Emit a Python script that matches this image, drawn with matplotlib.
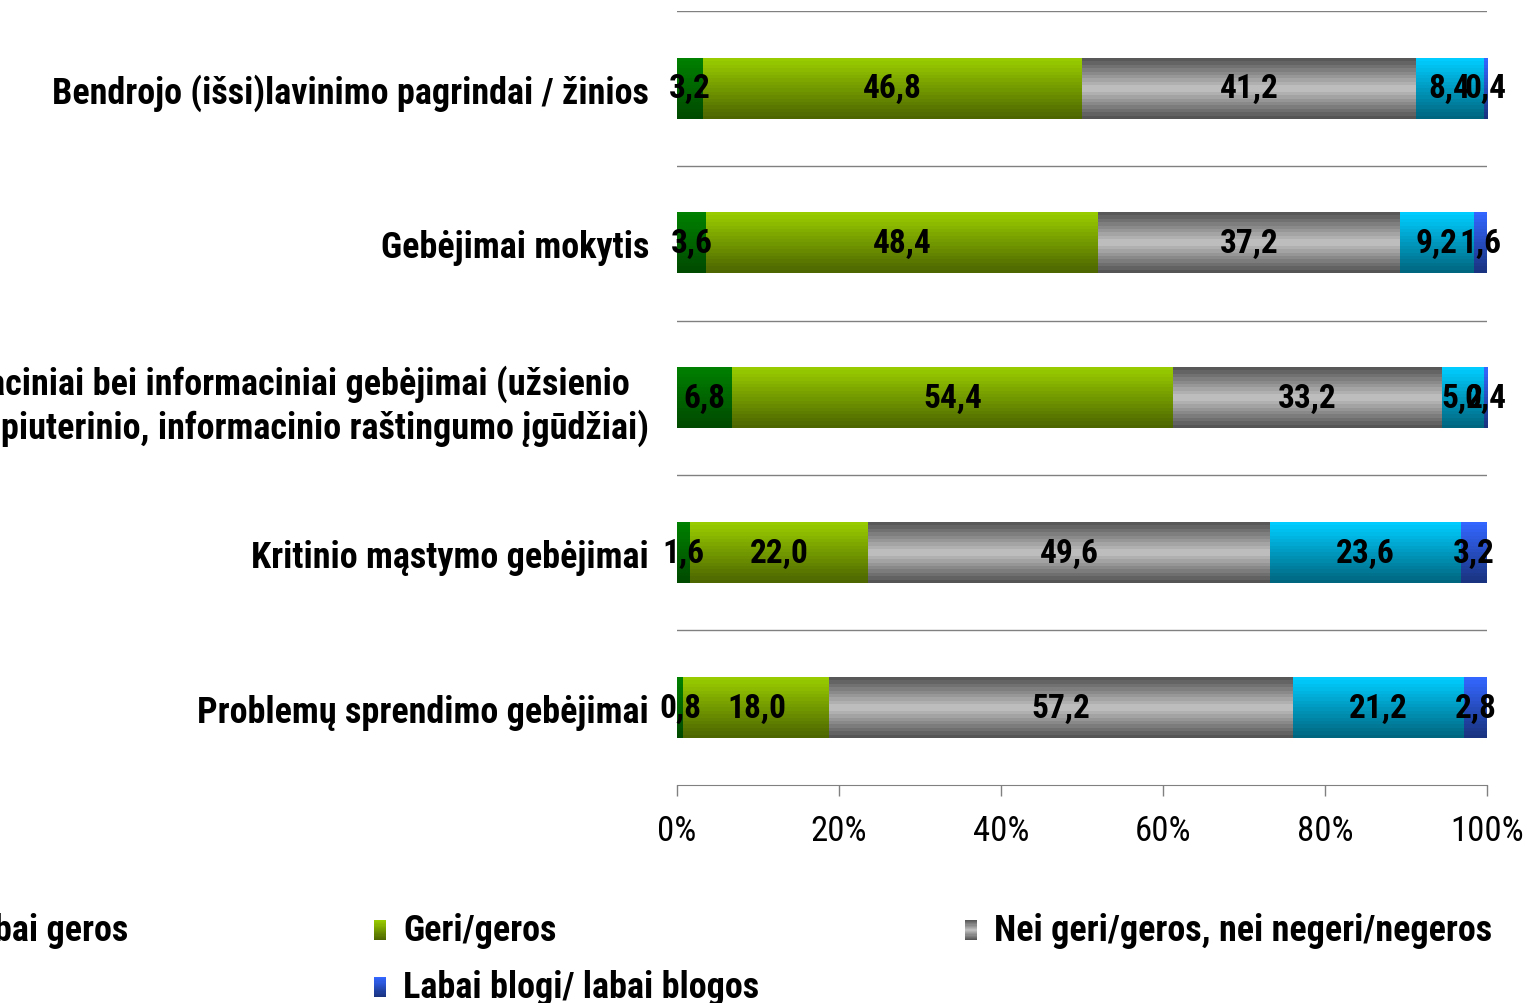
import matplotlib
matplotlib.use('Agg')
import matplotlib.pyplot as plt
import numpy as np
from matplotlib import font_manager
from matplotlib.colors import LinearSegmentedColormap

categories = [
    'Bendrojo (išsi)lavinimo pagrindai / žinios',
    'Gebėjimai mokytis',
    'Komunikaciniai bei informaciniai gebėjimai (užsienio\nkalbų, kompiuterinio, informacinio raštingumo įgūdžiai)',
    'Kritinio mąstymo gebėjimai',
    'Problemų sprendimo gebėjimai',
]
series_names = ['Labai geri/labai geros', 'Geri/geros', 'Nei geri/geros, nei negeri/negeros',
                'Blogi/blogos', 'Labai blogi/ labai blogos']
labai_geri = [3.2, 3.6, 6.8, 1.6, 0.8]
geri = [46.8, 48.4, 54.4, 22.0, 18.0]
nei = [41.2, 37.2, 33.2, 49.6, 57.2]
blogi = [8.4, 9.2, 5.2, 23.6, 21.2]
labai_blogi = [0.4, 1.6, 0.4, 3.2, 2.8]
tick_values = [0, 20, 40, 60, 80, 100]

series_values = [labai_geri, geri, nei, blogi, labai_blogi]
# vertical gradients, top -> bottom
gradients = [
    ['#008000', '#004a00'],
    ['#99cc00', '#4d6600'],
    ['#585858', '#c4c4c4', '#555555'],
    ['#00ccff', '#006680'],
    ['#3366ff', '#1a3380'],
]

# the original uses a narrow font, take one if there is one
installed = {f.name for f in font_manager.fontManager.ttflist}
narrow = [n for n in ['Liberation Sans Narrow', 'Arial Narrow', 'Roboto Condensed',
                      'DejaVu Sans Condensed', 'Open Sans Condensed'] if n in installed]
if narrow:
    FONT = [narrow[0], 'DejaVu Sans']
    FS_CAT, FS_VAL, FS_TICK = 26, 24, 25
else:
    FONT = ['Liberation Sans', 'DejaVu Sans']
    FS_CAT, FS_VAL, FS_TICK = 19.5, 20, 20
plt.rcParams['font.family'] = FONT

W, H = 1538, 1004
fig = plt.figure(figsize=(W / 100, H / 100), dpi=100)
fig.set_facecolor('#ffffff')
ax = fig.add_axes([677 / W, 1 - 786 / H, 810 / W, 774 / H])

grad = np.linspace(0, 1, 18).reshape(-1, 1)
y = np.arange(len(categories))
left = np.zeros(len(categories))
for name, vals, cols in zip(series_names, series_values, gradients):
    cmap = LinearSegmentedColormap.from_list(name, cols)
    bars = ax.barh(y, vals, left=left, height=0.39, color='none', edgecolor='none')
    for rect in bars:
        x0, y0 = rect.get_x(), rect.get_y()
        w, h = rect.get_width(), rect.get_height()
        ax.imshow(grad, extent=(x0, x0 + w, y0 + h, y0), aspect='auto', cmap=cmap,
                  interpolation='nearest', zorder=2)
    labels = [f'{v:.1f}'.replace('.', ',') for v in vals]
    ax.bar_label(bars, labels=labels, label_type='center', fontsize=FS_VAL, fontweight='bold', zorder=5)
    left += np.array(vals)

ax.set_xlim(0, 100)
ax.set_ylim(len(categories) - 0.5, -0.5)
ax.set_xticks(tick_values)
ax.set_xticklabels([f'{t}%' for t in tick_values], fontsize=FS_TICK)
ax.set_yticks(y)
ax.set_yticklabels(categories, fontsize=FS_CAT, fontweight='bold', multialignment='center')
ax.set_yticks(np.arange(-0.5, len(categories) - 0.5, 1), minor=True)
ax.grid(which='minor', axis='y', color='#808080', linewidth=1)
ax.tick_params(axis='y', which='both', length=0, pad=20)
ax.tick_params(axis='x', length=8, width=1, color='#808080', pad=13)
for s in ['top', 'right', 'left']:
    ax.spines[s].set_visible(False)
ax.spines['bottom'].set_color('#808080')
ax.set_axisbelow(True)

# legend, filled row by row like the original
col_x = [-217, 374, 965]
row_y = [931, 988]
for i, (name, cols) in enumerate(zip(series_names, gradients)):
    cx = col_x[i % 3]
    cy = row_y[i // 3]
    max_ = fig.add_axes([cx / W, 1 - (cy + 10) / H, 12 / W, 20 / H])
    max_.imshow(grad, aspect='auto', cmap=LinearSegmentedColormap.from_list(name, cols),
                interpolation='nearest')
    max_.axis('off')
    fig.text((cx + 29) / W, 1 - cy / H, name, fontsize=FS_CAT, fontweight='bold', va='center', ha='left')

fig.savefig('out.png', dpi=100)
plt.close()
